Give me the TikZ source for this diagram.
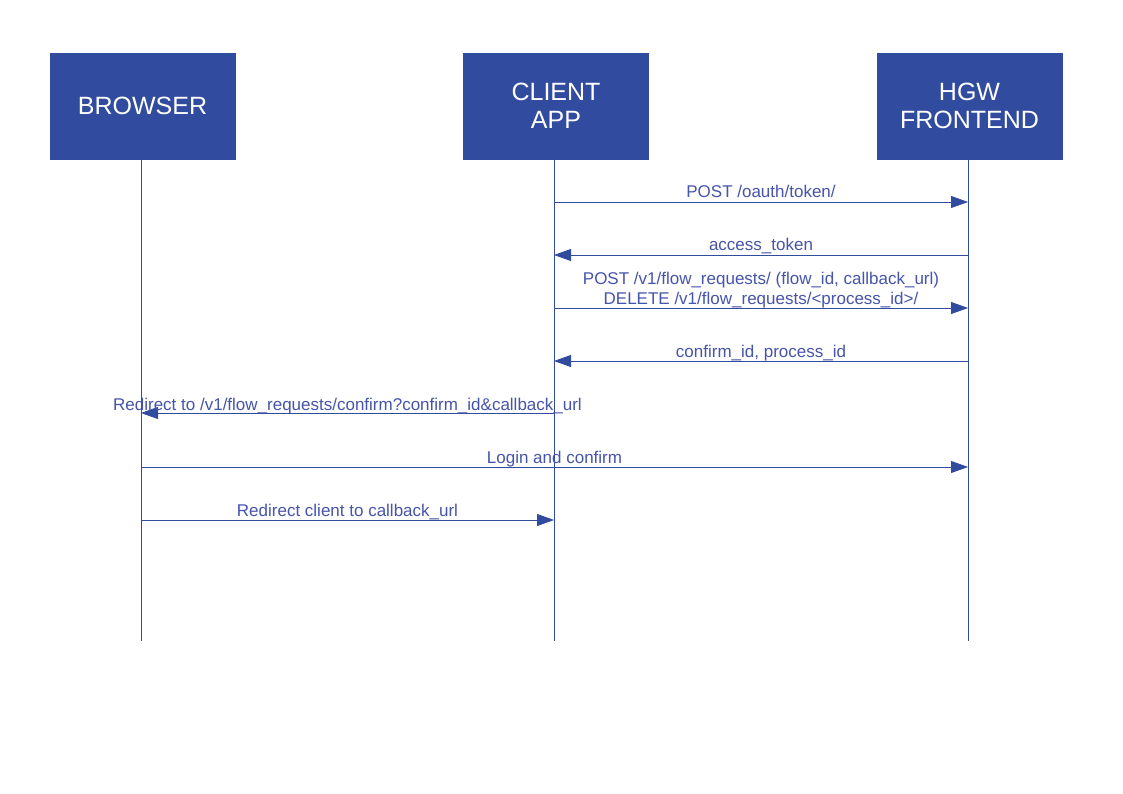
\documentclass[tikz,border=0pt]{standalone}
\usepackage{fontspec}
\setmainfont{Liberation Sans}
\usetikzlibrary{arrows.meta}
\definecolor{boxc}{RGB}{49,75,159}
\definecolor{lblc}{RGB}{70,84,172}
\begin{document}
\begin{tikzpicture}[x=1pt,y=-1pt,
  actor/.style={draw=boxc,fill=boxc,minimum width=185pt,minimum height=106pt,
    text=white,font=\fontsize{25}{28}\selectfont,align=center,inner sep=0pt,line width=0.8pt},
  lifeline/.style={draw=boxc,line width=0.8pt},
  msg/.style={draw=boxc,line width=0.8pt,-{Triangle[length=17pt,width=12pt]}},
  lbl/.style={text=lblc,font=\fontsize{17}{20}\selectfont,anchor=base,inner sep=0pt,yshift=4pt}]
\useasboundingbox (0,0) rectangle (1123,794);
\fill[white] (0,0) rectangle (1123,794);
\node[actor] (browser) at (142.5,106) {BROWSER};
\node[actor] (client) at (556,106) {CLIENT\\APP};
\node[actor] (hgw) at (969.5,106) {HGW\\FRONTEND};
\coordinate (bend) at (141,641);
\coordinate (cend) at (554,641);
\coordinate (hend) at (968,641);
\draw[lifeline] (browser.south -| bend) -- (bend);
\draw[lifeline] (client.south -| cend) -- (cend);
\draw[lifeline] (hgw.south -| hend) -- (hend);
\draw[msg] (cend |- 0,202) -- node[lbl]{POST /oauth/token/} (hend |- 0,202);
\draw[msg] (hend |- 0,255) -- node[lbl]{access\_token} (cend |- 0,255);
\draw[msg] (cend |- 0,308) -- node[lbl]{DELETE /v1/flow\_requests/<process\_id>/}
  node[lbl,yshift=20pt]{POST /v1/flow\_requests/ (flow\_id, callback\_url)} (hend |- 0,308);
\draw[msg] (hend |- 0,361) -- node[lbl]{confirm\_id, process\_id} (cend |- 0,361);
\draw[msg] (cend |- 0,413) -- node[lbl,yshift=-1pt]{Redirect to /v1/flow\_requests/confirm?confirm\_id\&callback\_url} (bend |- 0,413);
\draw[msg] (bend |- 0,467) -- node[lbl]{Login and confirm} (hend |- 0,467);
\draw[msg] (bend |- 0,520) -- node[lbl]{Redirect client to callback\_url} (cend |- 0,520);
\end{tikzpicture}
\end{document}
